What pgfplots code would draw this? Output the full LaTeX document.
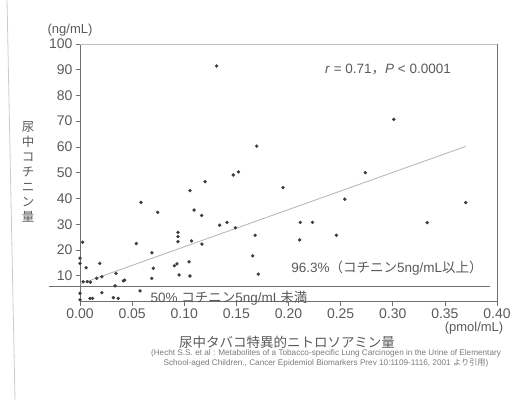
\documentclass[border=0pt]{standalone}
\usepackage{pgfplots}
\pgfplotsset{compat=1.18}
\usepackage{fontspec}
\setmainfont{Liberation Sans}
\newfontfamily\jp{Noto Sans CJK JP}
\definecolor{txt}{HTML}{5A5A5A}
\definecolor{pt}{HTML}{3C3C3C}
\definecolor{ax}{HTML}{707070}
\begin{document}
\begin{tikzpicture}[x=1pt,y=1pt]
\path[use as bounding box] (0,0) rectangle (513,400);
\draw[gray!40, line width=0.8pt] (7,400) -- (15,0);
\begin{axis}[
  scale only axis, width=417pt, height=257.7pt,
  anchor=south west, at={(80pt,98.5pt)},
  xmin=0, xmax=0.4, ymin=0, ymax=100,
  clip=false,
  axis lines*=left,
  axis line style={ax, line width=0.7pt},
  xtick={0,0.05,0.1,0.15,0.2,0.25,0.3,0.35,0.4},
  ytick={10,20,30,40,50,60,70,80,90,100},
  tick align=outside, major tick length=4pt,
  tick style={ax, line width=0.6pt},
  x tick label style={/pgf/number format/fixed, /pgf/number format/fixed zerofill, /pgf/number format/precision=2},
  /pgf/number format/assume math mode=true,
  ticklabel style={font=\fontsize{14}{14}\selectfont, text=txt},
]
\draw[gray!50, line width=0.6pt] (rel axis cs:0,1) -- (rel axis cs:1,1);
\draw[ax, line width=0.8pt] (rel axis cs:1,1) -- (rel axis cs:1,0);
\addplot[ax, line width=0.7pt] coordinates {(-0.03,6) (0.393,6)};
\addplot[gray!55, line width=0.9pt] coordinates {(0,6.8) (0.37,60.2)};
\addplot[only marks, mark=*, mark size=1.5pt, color=pt] coordinates {
(0.0026,23.0) (0,16.8) (0,14.8) (0.0058,13.1) (0.019,14.8)
(0.003,7.7) (0.007,7.7) (0.010,7.5) (0.016,9.0) (0.021,9.6)
(0.0345,10.9) (0.0336,6.1) (0.0415,8.0) (0.043,8.3) (0,3.2)
(0.021,3.4) (0.0576,4.1) (0.0688,9.0) (0.0703,12.9) (0,0.6)
(0.0096,1.2) (0.012,1.2) (0.032,1.5) (0.0367,1.2)
(0.0585,38.5) (0.0745,34.6) (0.054,22.5) (0.069,18.9)
(0.094,26.8) (0.094,25.2) (0.094,23.2) (0.107,23.5) (0.117,22.3)
(0.093,14.6) (0.0905,13.9) (0.1046,15.4) (0.095,10.3) (0.1055,9.9)
(0.1055,43.0) (0.1094,35.5) (0.1167,33.4) (0.120,46.5) (0.131,91.4)
(0.134,29.6) (0.141,30.7) (0.149,28.6) (0.147,49.1) (0.152,50.3)
(0.1695,60.3) (0.168,25.7) (0.1657,17.7) (0.171,10.6) (0.1947,44.2)
(0.2113,30.7) (0.223,30.7) (0.2107,23.9) (0.246,25.7) (0.254,39.7)
(0.2737,50.0) (0.301,70.7) (0.333,30.6) (0.370,38.4)
};
\end{axis}
\node[text=txt, font=\fontsize{13}{13}\selectfont] at (70,370) {(ng/mL)};
\node[text=txt, font=\jp\fontsize{12.5}{15}\selectfont, align=center] at (28,228) {尿\\中\\コ\\チ\\ニ\\ン\\量};
\node[text=txt, font=\jp\fontsize{13.5}{14}\selectfont] at (287,58) {尿中タバコ特異的ニトロソアミン量};
\node[text=txt, font=\fontsize{13}{13}\selectfont] at (474,72) {(pmol/mL)};
\node[text=txt, font=\fontsize{13.5}{14}\selectfont] at (388,330) {\textit{r} = 0.71{\jp ，}\textit{P} < 0.0001};
\node[text=txt, font=\fontsize{13.5}{14}\selectfont] at (387,132) {96.3\%{\jp （コチニン}5ng/mL{\jp 以上）}};
\node[text=txt, font=\fontsize{13.5}{14}\selectfont] at (229,102) {50\% {\jp コチニン}5ng/mL{\jp 未満}};
\node[text=txt!80, font=\fontsize{8.2}{10}\selectfont, align=center] at (326,42) {(Hecht S.S. et al : Metabolites of a Tobacco-specific Lung Carcinogen in the Urine of Elementary\\School-aged Children., Cancer Epidemiol Biomarkers Prev 10:1109-1116, 2001 {\jp より引用})};
\end{tikzpicture}
\end{document}
